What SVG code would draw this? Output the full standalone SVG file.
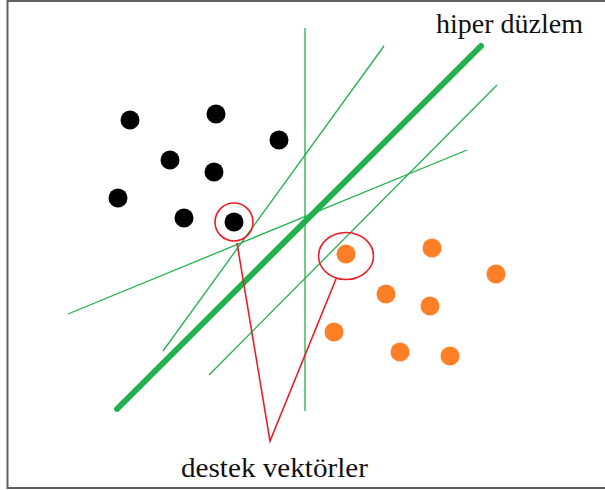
<svg xmlns="http://www.w3.org/2000/svg" width="605" height="490" viewBox="0 0 605 490">
<style>
.thin{stroke:#22B14C;stroke-width:1.3;fill:none}
.thick{stroke:#22B14C;stroke-width:6;stroke-linecap:round;fill:none}
.blk{fill:#000}
.org{fill:#FF7F27}
.red{stroke:#ED1C24;stroke-width:1.6;fill:none}
.lbl{font-family:"Liberation Serif","Times New Roman",serif;font-size:28px;fill:#111}
</style>
<rect x="0" y="0" width="605" height="490" fill="#fff"/>
<rect x="7.5" y="1" width="600" height="487" fill="none" stroke="#606060" stroke-width="2"/>
<g id="connectors">
<line class="thin" x1="305" y1="28" x2="305" y2="411"/>
<line class="thin" x1="384" y1="46" x2="163" y2="351"/>
<line class="thin" x1="497" y1="85" x2="209" y2="375"/>
<line class="thin" x1="68" y1="314" x2="467" y2="150"/>
<line id="hyperplane" class="thick" x1="117" y1="409" x2="481" y2="46"/>
<polyline class="red" points="237,243 270,441 336,279"/>
</g>
<g id="black-points">
<circle class="blk" cx="130" cy="120" r="9.5"/>
<circle class="blk" cx="216" cy="114" r="9.5"/>
<circle class="blk" cx="279" cy="140" r="9.5"/>
<circle class="blk" cx="170" cy="160" r="9.5"/>
<circle class="blk" cx="214" cy="172" r="9.5"/>
<circle class="blk" cx="118" cy="198" r="9.5"/>
<circle class="blk" cx="184" cy="218" r="9.5"/>
<circle class="blk" cx="234" cy="222" r="9.5"/>
</g>
<g id="orange-points">
<circle class="org" cx="346" cy="254" r="9.5"/>
<circle class="org" cx="432" cy="248" r="9.5"/>
<circle class="org" cx="496" cy="274" r="9.5"/>
<circle class="org" cx="386" cy="294" r="9.5"/>
<circle class="org" cx="430" cy="306" r="9.5"/>
<circle class="org" cx="334" cy="332" r="9.5"/>
<circle class="org" cx="400" cy="352" r="9.5"/>
<circle class="org" cx="450" cy="356" r="9.5"/>
</g>
<g id="support-circle-black"><circle class="red" cx="234" cy="222" r="19"/></g>
<g id="support-circle-orange"><ellipse class="red" cx="346" cy="256" rx="27.5" ry="23.5"/></g>
<g id="label-hyperplane"><text class="lbl" x="436" y="33" textLength="147" lengthAdjust="spacingAndGlyphs">hiper düzlem</text></g>
<g id="label-support"><text class="lbl" x="181" y="477" textLength="187" lengthAdjust="spacingAndGlyphs">destek vektörler</text></g>
</svg>
